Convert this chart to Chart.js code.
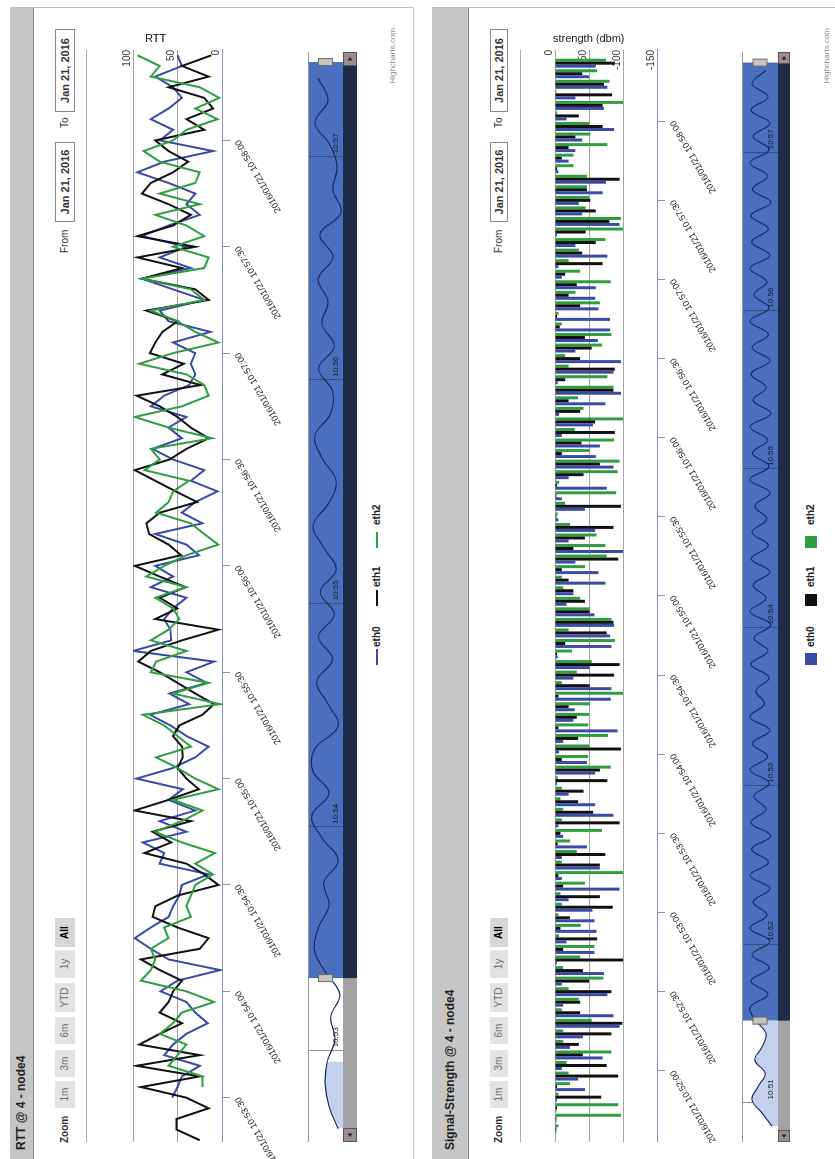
<!DOCTYPE html>
<html>
<head>
<meta charset="utf-8">
<title>RTT / Signal-Strength @ 4 - node4</title>
<script src="https://cdn.jsdelivr.net/npm/chart.js"></script>
<style>
body { margin: 0; overflow: hidden; background: #fff; font-family: 'Liberation Sans', Arial, sans-serif; }
#page { position: absolute; left: 0; top: 0; width: 1159px; height: 835px; transform-origin: 0 0; transform: translate(0, 1159px) rotate(-90deg); }
#page div, #page canvas { position: absolute; }
.panel { border: 1px solid #c2c2c2; background: #fff; box-sizing: border-box; }
.head { left: 0; top: 0; width: 100%; background: #c6c6c6; border-bottom: 1px solid #8e8e8e; box-sizing: border-box; }
.title { font-size: 12px; font-weight: bold; color: #1e1e1e; white-space: nowrap; line-height: 14px; }
.lbl { font-size: 10px; color: #333; white-space: nowrap; line-height: 12px; }
.btn { background: #e3e3e3; color: #6f6f6f; font-size: 10px; text-align: center; }
.btn.on { background: #d6d6d6; color: #000; font-weight: bold; }
.date { border: 1px solid #8a8a8a; background: #fff; font-size: 11px; font-weight: bold; color: #333; text-align: center; box-sizing: border-box; }
.rule { height: 1px; background: #a9a9a9; }
.ytitle { writing-mode: vertical-rl; font-size: 11px; color: #222; white-space: nowrap; line-height: 12px; }
.credit { font-size: 8px; color: #8c8c8c; text-align: right; white-space: nowrap; line-height: 10px; }
.leg { font-size: 10px; font-weight: bold; color: #222; white-space: nowrap; line-height: 12px; }
</style>
</head>
<body>
<div id="page">
    <div class="panel" style="left:-10px;top:10px;width:1162px;height:404px"><div class="head" style="height:23px"></div></div>
    <div class="panel" style="left:-10px;top:432px;width:1162px;height:420px"><div class="head" style="height:36px"></div></div>

    <canvas id="rttMain" width="1159" height="180" style="left:0;top:120px"></canvas>
    <canvas id="rttNav" width="1159" height="60" style="left:0;top:300px"></canvas>
    <canvas id="sigMain" width="1159" height="185" style="left:0;top:540px"></canvas>
    <canvas id="sigNav" width="1159" height="60" style="left:0;top:734px"></canvas>

    <div id="overlay"></div>
</div>
<script>

const dateLabel = '2016/01/21';
const seriesNames = ['eth0', 'eth1', 'eth2'];
const seriesColors = ['#3a4aa6', '#111111', '#2f9e40'];

// RTT, one point every 3 s
const rttStart = '10:53:18';
const rttStep = 3;
const rttRange = ['10:53:17.5', '10:58:25.5'];
const rttYTicks = [100, 50, 0];
const rttTickLabels = ['10:53:30', '10:54:00', '10:54:30', '10:55:00', '10:55:30', '10:56:00', '10:56:30', '10:57:00', '10:57:30', '10:58:00'];
const rttEth0 = [null, null, null, null, 56, 50, 45, 25, 65, 55, 40, 16, 30, 40, 69, 50, 2, 60, 80, 98,
    80, 60, 55, 48, 45, 15, 70, 65, 89, 40, 70, 30, 60, 44, 96, 55, 30, 15, 40, 58,
    81, 37, 59, 17, 40, 9, 100, 57, 58, 65, 55, 40, 80, 55, 75, 26, 40, 75, 22, 45,
    30, 5, 35, 20, 55, 78, 45, 60, 40, 80, 65, 37, 30, 35, 30, 55, 13, 60, 70, 20,
    55, 90, 35, 70, 40, 90, 60, 25, 40, 30, 60, 95, 65, 10, 70, 55, 80, 60, 45, 55, 75, 45, 50];
const rttEth1 = [25, 51, 51, 15, 40, 91, 25, 96, 25, 93, 70, 45, 70, 60, 55, 45, 70, 91, 25, 15,
    50, 78, 75, 50, 4, 20, 40, 87, 57, 78, 35, 98, 60, 26, 40, 50, 44, 45, 55, 48,
    22, 9, 30, 50, 70, 94, 80, 45, 4, 75, 50, 70, 41, 70, 98, 46, 60, 82, 85, 70,
    28, 52, 75, 98, 59, 40, 15, 35, 50, 70, 96, 24, 67, 43, 81, 75, 67, 50, 85, 15,
    30, 90, 45, 95, 30, 95, 55, 35, 60, 90, 80, 55, 38, 60, 75, 20, 40, 10, 20, 60, 15, 45, 12];
const rttEth2 = [null, null, null, null, null, 22, 22, 60, 50, 40, 70, 55, 45, 9, 40, 91, 80, 75, 80, 60,
    65, 35, 40, 35, 30, 10, 30, 8, 45, 75, 45, 22, 55, 4, 30, 50, 74, 35, 50, 65,
    89, 2, 55, 15, 80, 74, 40, 80, 60, 48, 55, 75, 40, 85, 65, 40, 4, 20, 35, 74,
    60, 55, 37, 87, 70, 80, 11, 60, 98, 45, 15, 20, 40, 93, 55, 4, 30, 50, 80, 20,
    35, 90, 20, 15, 55, 20, 40, 75, 25, 70, 30, 25, 70, 88, 55, 40, 5, 30, 3, 25, 80, 70, 95];

// RTT navigator
const rttNavStart = '10:52:39';
const rttNavStep = 6;
const rttNavRange = ['10:52:35.4', '10:57:28'];
const rttNavSelected = ['10:53:19.4', '10:57:25.3'];
const rttNavFillEnd = '10:53:00';
const rttNavTicks = ['10:53', '10:54', '10:55', '10:56', '10:57'];
const rttNavValues = [14, 40, 51, 45, 23, 35, 9, 50, 82, 70, 40, 55, 14, 60, 89, 40, 86, 80, 14, 43,
    75, 30, 70, 25, 65, 20, 55, 85, 40, 20, 60, 80, 35, 30, 70, 25, 60, 43, 71, 29,
    66, 5, 29, 17, 37, 80, 43, 71];

// Signal strength, one group every 4 s
const sigStart = '10:51:38';
const sigStep = 4;
const sigRange = ['10:51:33', '10:58:27'];
const sigYTicks = [0, -50, -100, -150];
const sigTickLabels = ['10:52:00', '10:52:30', '10:53:00', '10:53:30', '10:54:00', '10:54:30', '10:55:00',
    '10:55:30', '10:56:00', '10:56:30', '10:57:00', '10:57:30', '10:58:00'];
const sigEth0 = [-2, -2, -2, -3, -44, -34, -10, -70, -22, -41, -95, -86, -12, -77, -10, -72, -3, -58, -17, -61,
    -58, -55, -20, -95, -10, -66, -10, -47, -12, -5, -86, -59, -20, -3, -59, -47, -6, -12, -92, -27,
    -29, -82, -83, -27, -51, -4, -83, -81, -87, -58, -17, -27, -74, -64, -30, -100, -20, -59, -5, -44,
    -10, -76, -20, -86, -60, -66, -10, -56, -6, -74, -97, -4, -86, -97, -30, -63, -81, -81, -64, -59,
    -60, -10, -5, -77, -30, -3, -95, -40, -35, -70, -75, -5, -20, -30, -40, -87, -17, -72, -30, -77, -50, -60];
const sigEth1 = [-2, -2, -3, -68, -3, -93, -76, -41, -35, -83, -99, -37, -37, -83, -50, -41, -100, -12, -62, -8,
    -22, -85, -66, -12, -5, -66, -74, -4, -8, -95, -56, -34, -42, -77, -66, -10, -97, -34, -5, -32,
    -20, -5, -51, -87, -95, -3, -15, -76, -86, -51, -44, -27, -20, -10, -93, -27, -44, -86, -2, -97,
    -2, -3, -42, -66, -10, -39, -88, -59, -37, -20, -86, -15, -88, -37, -54, -44, -7, -3, -37, -20,
    -32, -15, -70, -40, -60, -45, -80, -60, -52, -47, -95, -3, -10, -20, -30, -70, -35, -70, -84, -72, -40, -88];
const sigEth2 = [-5, -97, -93, -5, -22, -20, -17, -83, -12, -12, -54, -10, -35, -20, -71, -12, -37, -58, -6, -38,
    -5, -10, -8, -44, -100, -10, -32, -22, -69, -10, -12, -8, -10, -4, -82, -49, -50, -78, -49, -50,
    -51, -100, -10, -32, -54, -25, -88, -20, -83, -51, -37, -12, -10, -44, -76, -74, -61, -22, -4, -15,
    -90, -6, -92, -95, -51, -87, -29, -100, -42, -34, -86, -77, -20, -15, -69, -83, -10, -5, -66, -30,
    -82, -37, -20, -35, -74, -100, -97, -45, -50, -47, -47, -27, -27, -77, -52, -50, -3, -100, -2, -80, -62, -75];

// Signal navigator
const sigNavStart = '10:50:51';
const sigNavStep = 5;
const sigNavRange = ['10:50:45', '10:57:38'];
const sigNavSelected = ['10:51:31', '10:57:34'];
const sigNavFillEnd = '10:51:31';
const sigNavTicks = ['10:51', '10:52', '10:53', '10:54', '10:55', '10:56', '10:57'];
const sigNavValues = [-85, -60, -35, -50, -68, -42, -60, -70, -45, -30, -75, -32, -78, -35, -80, -30, -72, -38, -80, -30,
    -76, -34, -82, -32, -70, -40, -78, -30, -74, -36, -80, -30, -66, -45, -78, -32, -75, -40, -82, -30,
    -70, -38, -80, -33, -76, -35, -72, -42, -80, -30, -78, -36, -74, -30, -82, -38, -70, -32, -80, -35,
    -76, -30, -78, -40, -72, -30, -80, -34, -76, -32, -82, -36, -74, -30, -78, -38, -80, -32, -75, -35, -70];

Chart.defaults.font.family = "'Liberation Sans', Arial, sans-serif";
const axisBlue = '#8593b6';

function toSec(t) {
    const [h, m, s = 0] = t.split(':').map(Number);
    return h * 3600 + m * 60 + s;
}

function timed(values, start, step) {
    const t0 = toSec(start);
    return values.map((v, i) => ({ x: t0 + i * step, y: v }));
}

function mainChart(id, type, datasets, o) {
    const tickSecs = o.tickLabels.map(toSec);
    const yMin = Math.min(...o.yTicks), yMax = Math.max(...o.yTicks);
    return new Chart(document.getElementById(id), {
        type: type,
        data: { datasets: datasets },
        options: {
            responsive: false,
            animation: false,
            events: [],
            layout: { padding: { left: 17, right: 50, top: o.top, bottom: 0 } },
            plugins: { legend: { display: false }, tooltip: { enabled: false } },
            scales: {
                x: {
                    type: 'linear',
                    min: toSec(o.range[0]),
                    max: toSec(o.range[1]),
                    offset: false,
                    afterBuildTicks: s => { s.ticks = tickSecs.map(v => ({ value: v })); },
                    afterFit: s => { s.height = o.xHeight; s.paddingLeft = 0; s.paddingRight = 0; },
                    ticks: {
                        autoSkip: false, minRotation: 30, maxRotation: 30, padding: 3,
                        font: { size: 9 }, color: '#222',
                        callback: (v, i) => dateLabel + ' ' + o.tickLabels[i]
                    },
                    grid: { drawOnChartArea: false, tickLength: 8, tickColor: axisBlue, offset: false },
                    border: { color: axisBlue }
                },
                y: {
                    position: 'right',
                    min: yMin,
                    max: yMax,
                    afterBuildTicks: s => { s.ticks = o.yTicks.map(v => ({ value: v })); },
                    afterFit: s => { s.width = 0; s.paddingTop = 0; s.paddingBottom = 0; },
                    ticks: { mirror: true, padding: 0, labelOffset: -6, font: { size: 10 }, color: '#333' },
                    grid: { drawTicks: false, color: c => (c.tick && c.tick.value === yMin) ? axisBlue : '#a3a3a3' },
                    border: { display: false }
                }
            }
        }
    });
}

// mask, scrollbar, handles and minute labels of a navigator
function navDecor(selected, barHeight, ticks) {
    const from = toSec(selected[0]), to = toSec(selected[1]);
    return {
        id: 'navDecor',
        beforeDraw(chart) {
            const { ctx, chartArea: a, scales: { x } } = chart;
            const x0 = x.getPixelForValue(from), x1 = x.getPixelForValue(to);
            ctx.save();
            ctx.fillStyle = '#4a6fbf';
            ctx.fillRect(x0, a.top, x1 - x0, a.bottom - a.top);
            ctx.restore();
        },
        afterDraw(chart) {
            const { ctx, chartArea: a, scales: { x } } = chart;
            const x0 = x.getPixelForValue(from), x1 = Math.min(x.getPixelForValue(to), a.right - barHeight);
            const sb = a.bottom, h = barHeight, mid = (a.top + a.bottom) / 2;
            ctx.save();
            ctx.font = "8px 'Liberation Sans', Arial, sans-serif";
            ctx.fillStyle = '#1a1a1a';
            ctx.textAlign = 'left';
            ctx.textBaseline = 'bottom';
            ticks.forEach(t => ctx.fillText(t, x.getPixelForValue(toSec(t)) + 3, a.bottom - 3));
            ctx.fillStyle = '#a3a3a3';
            ctx.fillRect(a.left, sb, a.right - a.left, h);
            ctx.fillStyle = '#1f2b47';
            ctx.fillRect(x0, sb, x1 - x0, h);
            [a.left, a.right - h].forEach((bx, k) => {
                ctx.fillStyle = '#9d8c91';
                ctx.fillRect(bx, sb, h, h);
                ctx.strokeStyle = '#555';
                ctx.lineWidth = 1;
                ctx.strokeRect(bx + 0.5, sb + 0.5, h - 1, h - 1);
                const cx = bx + h / 2, cy = sb + h / 2, d = k === 0 ? -1 : 1;
                ctx.fillStyle = '#222';
                ctx.beginPath();
                ctx.moveTo(cx + d * 2, cy);
                ctx.lineTo(cx - d * 1.5, cy - 2.5);
                ctx.lineTo(cx - d * 1.5, cy + 2.5);
                ctx.closePath();
                ctx.fill();
            });
            ctx.strokeStyle = '#9a9a9a';
            ctx.beginPath();
            ctx.moveTo(a.left, a.top + 0.5);
            ctx.lineTo(a.right, a.top + 0.5);
            ctx.stroke();
            [x.getPixelForValue(from), x.getPixelForValue(to)].forEach(hx => {
                ctx.fillStyle = '#cdc1c1';
                ctx.fillRect(hx - 3.5, mid - 7, 7, 14);
                ctx.strokeStyle = '#6b6b6b';
                ctx.strokeRect(hx - 3.5, mid - 7, 7, 14);
            });
            ctx.restore();
        }
    };
}

function navChart(id, o) {
    const pts = timed(o.values, o.start, o.step);
    const fillEnd = toSec(o.fillEnd);
    return new Chart(document.getElementById(id), {
        type: 'line',
        data: {
            datasets: [
                { data: pts, borderColor: '#1b2a66', borderWidth: 1.2, pointRadius: 0, tension: 0.4, fill: false, order: 1 },
                { data: pts.filter(p => p.x <= fillEnd), borderWidth: 0, backgroundColor: '#c3d1ec', pointRadius: 0, tension: 0.4, fill: 'start', order: 2 }
            ]
        },
        options: {
            responsive: false,
            animation: false,
            events: [],
            layout: { padding: { left: 17, right: 52, top: 8, bottom: o.bottom } },
            plugins: { legend: { display: false }, tooltip: { enabled: false } },
            scales: {
                x: {
                    type: 'linear',
                    min: toSec(o.range[0]),
                    max: toSec(o.range[1]),
                    afterBuildTicks: s => { s.ticks = o.ticks.map(t => ({ value: toSec(t) })); },
                    afterFit: s => { s.height = 0; s.paddingLeft = 0; s.paddingRight = 0; },
                    ticks: { display: false },
                    grid: { color: 'rgba(50,50,60,0.55)', drawTicks: false },
                    border: { display: false }
                },
                y: { display: false, min: o.yMin, max: o.yMax }
            }
        },
        plugins: [navDecor(o.selected, o.bar, o.ticks)]
    });
}

// RTT chart
mainChart('rttMain', 'line', [rttEth0, rttEth1, rttEth2].map((vals, k) => ({
    label: seriesNames[k],
    data: timed(vals, rttStart, rttStep),
    borderColor: seriesColors[k],
    borderWidth: 2,
    pointRadius: 0,
    tension: 0,
    fill: false,
    order: 3 - k
})), { range: rttRange, tickLabels: rttTickLabels, yTicks: rttYTicks, top: 13, xHeight: 78 });

navChart('rttNav', {
    values: rttNavValues, start: rttNavStart, step: rttNavStep, range: rttNavRange,
    selected: rttNavSelected, fillEnd: rttNavFillEnd, ticks: rttNavTicks,
    yMin: 0, yMax: 100, bottom: 17, bar: 14
});

// Signal-strength chart
mainChart('sigMain', 'bar', [sigEth0, sigEth1, sigEth2].map((vals, k) => ({
    label: seriesNames[k],
    data: timed(vals, sigStart, sigStep),
    backgroundColor: seriesColors[k],
    borderWidth: 0,
    barPercentage: 1,
    categoryPercentage: 0.85
})), { range: sigRange, tickLabels: sigTickLabels, yTicks: sigYTicks, top: 15, xHeight: 68 });

navChart('sigNav', {
    values: sigNavValues, start: sigNavStart, step: sigNavStep, range: sigNavRange,
    selected: sigNavSelected, fillEnd: sigNavFillEnd, ticks: sigNavTicks,
    yMin: -100, yMax: -10, bottom: 16, bar: 12
});

// page furniture (titles, range selector, legends, credits)
const overlay = document.getElementById('overlay');
function put(cls, text, style) {
    const d = document.createElement('div');
    d.className = cls;
    d.textContent = text;
    d.setAttribute('style', style);
    overlay.appendChild(d);
    return d;
}

const zoomButtons = ['1m', '3m', '6m', 'YTD', '1y', 'All'];
const buttonLeft = [51, 82, 115, 147, 181, 212];
const buttonWidth = [27, 27, 27, 29, 28, 29];
const legendSymbolLeft = [494, 553, 611];
const legendTextLeft = [512, 572, 634];

function panelFurniture(p) {
    put('title', p.title, `left:9px;top:${p.titleTop}px`);
    put('lbl', 'Zoom', `left:16px;top:${p.btnTop + p.btnH / 2 - 6}px;font-weight:bold`);
    zoomButtons.forEach((b, i) => {
        put('btn' + (b === 'All' ? ' on' : ''), b,
            `left:${buttonLeft[i]}px;top:${p.btnTop}px;width:${buttonWidth[i]}px;height:${p.btnH}px;line-height:${p.btnH}px`);
    });
    put('lbl', 'From', `left:906px;top:${p.btnTop + p.btnH / 2 - 6}px`);
    put('date', 'Jan 21, 2016', `left:937px;top:${p.btnTop}px;width:80px;height:${p.btnH}px;line-height:${p.btnH - 2}px`);
    put('lbl', 'To', `left:1031px;top:${p.btnTop + p.btnH / 2 - 6}px`);
    put('date', 'Jan 21, 2016', `left:1047px;top:${p.btnTop}px;width:83px;height:${p.btnH}px;line-height:${p.btnH - 2}px`);
    put('rule', '', `left:17px;top:${p.ruleTop}px;width:1092px`);
    put('ytitle', p.yTitle, `left:1115px;top:${p.yTitleTop}px`);
    seriesNames.forEach((n, k) => {
        if (p.square) {
            put('', '', `left:${legendSymbolLeft[k]}px;top:${p.legendMid - 6}px;width:12px;height:12px;background:${seriesColors[k]}`);
        } else {
            put('', '', `left:${legendSymbolLeft[k]}px;top:${p.legendMid - 1}px;width:16px;height:2px;background:${seriesColors[k]}`);
        }
        put('leg', n, `left:${legendTextLeft[k]}px;top:${p.legendMid - 6}px`);
    });
    put('credit', 'Highcharts.com', `left:1031px;top:${p.creditMid - 5}px;width:100px`);
}

panelFurniture({ title: 'RTT @ 4 - node4', titleTop: 14, btnTop: 55, btnH: 20, ruleTop: 86,
    yTitle: 'RTT', yTitleTop: 145, legendMid: 377, square: false, creditMid: 393 });
panelFurniture({ title: 'Signal-Strength @ 4 - node4', titleTop: 443, btnTop: 490, btnH: 18, ruleTop: 520,
    yTitle: 'strength (dbm)', yTitleTop: 553, legendMid: 811, square: true, creditMid: 827 });

</script>
</body>
</html>
